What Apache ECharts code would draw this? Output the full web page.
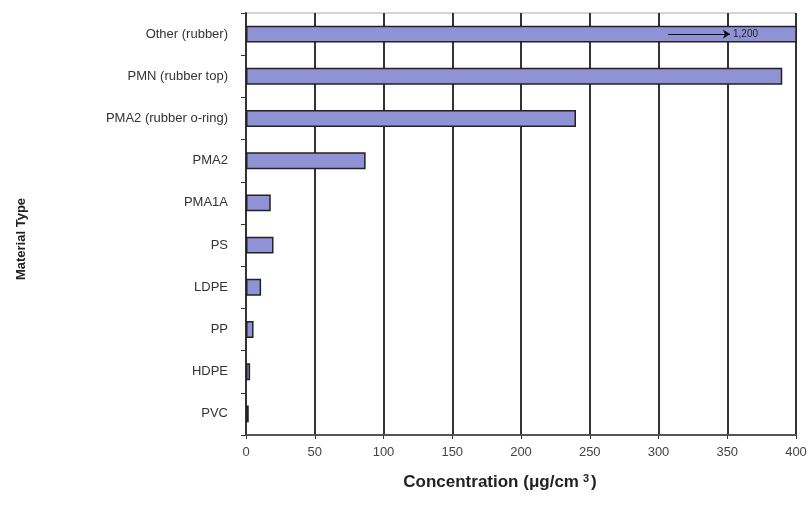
<!DOCTYPE html>
<html>
<head>
<meta charset="utf-8">
<script src="https://cdn.jsdelivr.net/npm/echarts@6/dist/echarts.min.js"></script>
<style>
html,body{margin:0;padding:0;background:#fff;}
#chart{width:811px;height:511px;}
</style>
</head>
<body>
<div id="chart"></div>
<script>
// Materials, listed bottom to top as the category axis draws them
const materials = ['PVC', 'HDPE', 'PP', 'LDPE', 'PS', 'PMA1A', 'PMA2', 'PMA2 (rubber o-ring)', 'PMN (rubber top)', 'Other (rubber)'];
// Concentration in µg/cm³
const concentrations = [2, 3, 5.5, 11, 20, 18, 87, 240, 390, 1200];
const xTicks = [0, 50, 100, 150, 200, 250, 300, 350, 400];
const offScaleLabel = '1,200';

const chart = echarts.init(document.getElementById('chart'));
chart.setOption({
  animation: false,
  textStyle: { fontFamily: 'Liberation Sans, Arial, sans-serif' },
  grid: { left: 246, right: 15, top: 13, bottom: 76, containLabel: false, show: true, borderColor: '#aaa', borderWidth: 1 },
  xAxis: {
    type: 'value', min: xTicks[0], max: xTicks[xTicks.length - 1], interval: 50,
    name: '{t|Concentration (μg/cm}{s|3}{t|)}', nameLocation: 'middle', nameGap: 38,
    nameTextStyle: {
      padding: [0, 42, 0, 0],
      rich: {
        t: { fontSize: 17, fontWeight: 'bold', color: '#222', fontFamily: 'Liberation Sans, Arial, sans-serif' },
        s: { fontSize: 11, fontWeight: 'bold', color: '#222', verticalAlign: 'top', padding: [0, 2, 8, 4], fontFamily: 'Liberation Sans, Arial, sans-serif' }
      }
    },
    axisLine: { show: true, lineStyle: { color: '#555', width: 2 } },
    axisTick: { show: true, inside: false, length: 4, lineStyle: { color: '#333' } },
    axisLabel: { color: '#444', fontSize: 13, margin: 11 },
    splitLine: { show: true, lineStyle: { color: '#333', width: 2 } }
  },
  yAxis: {
    type: 'category', data: materials,
    name: 'Material Type', nameLocation: 'middle', nameGap: 218, nameRotate: 90,
    nameTextStyle: { fontSize: 13, fontWeight: 'bold', color: '#222', padding: [0, 30, 0, 0] },
    axisLine: { show: true, lineStyle: { color: '#333', width: 2 } },
    axisTick: { show: true, length: 5, lineStyle: { color: '#333' } },
    axisLabel: { color: '#333', fontSize: 13, margin: 18 }
  },
  series: [{
    type: 'bar', data: concentrations, barWidth: '40%',
    itemStyle: { color: '#8f93d6', borderColor: '#222', borderWidth: 1.5 },
    markLine: {
      silent: true, symbol: ['none', 'arrow'], symbolSize: 7,
      lineStyle: { color: '#111', width: 1.2, type: 'solid' },
      label: { show: true, position: 'end', formatter: offScaleLabel, color: '#222', fontSize: 10, distance: 3 },
      data: [[{ coord: [307, 'Other (rubber)'] }, { coord: [352, 'Other (rubber)'] }]]
    }
  }]
});
</script>
</body>
</html>
